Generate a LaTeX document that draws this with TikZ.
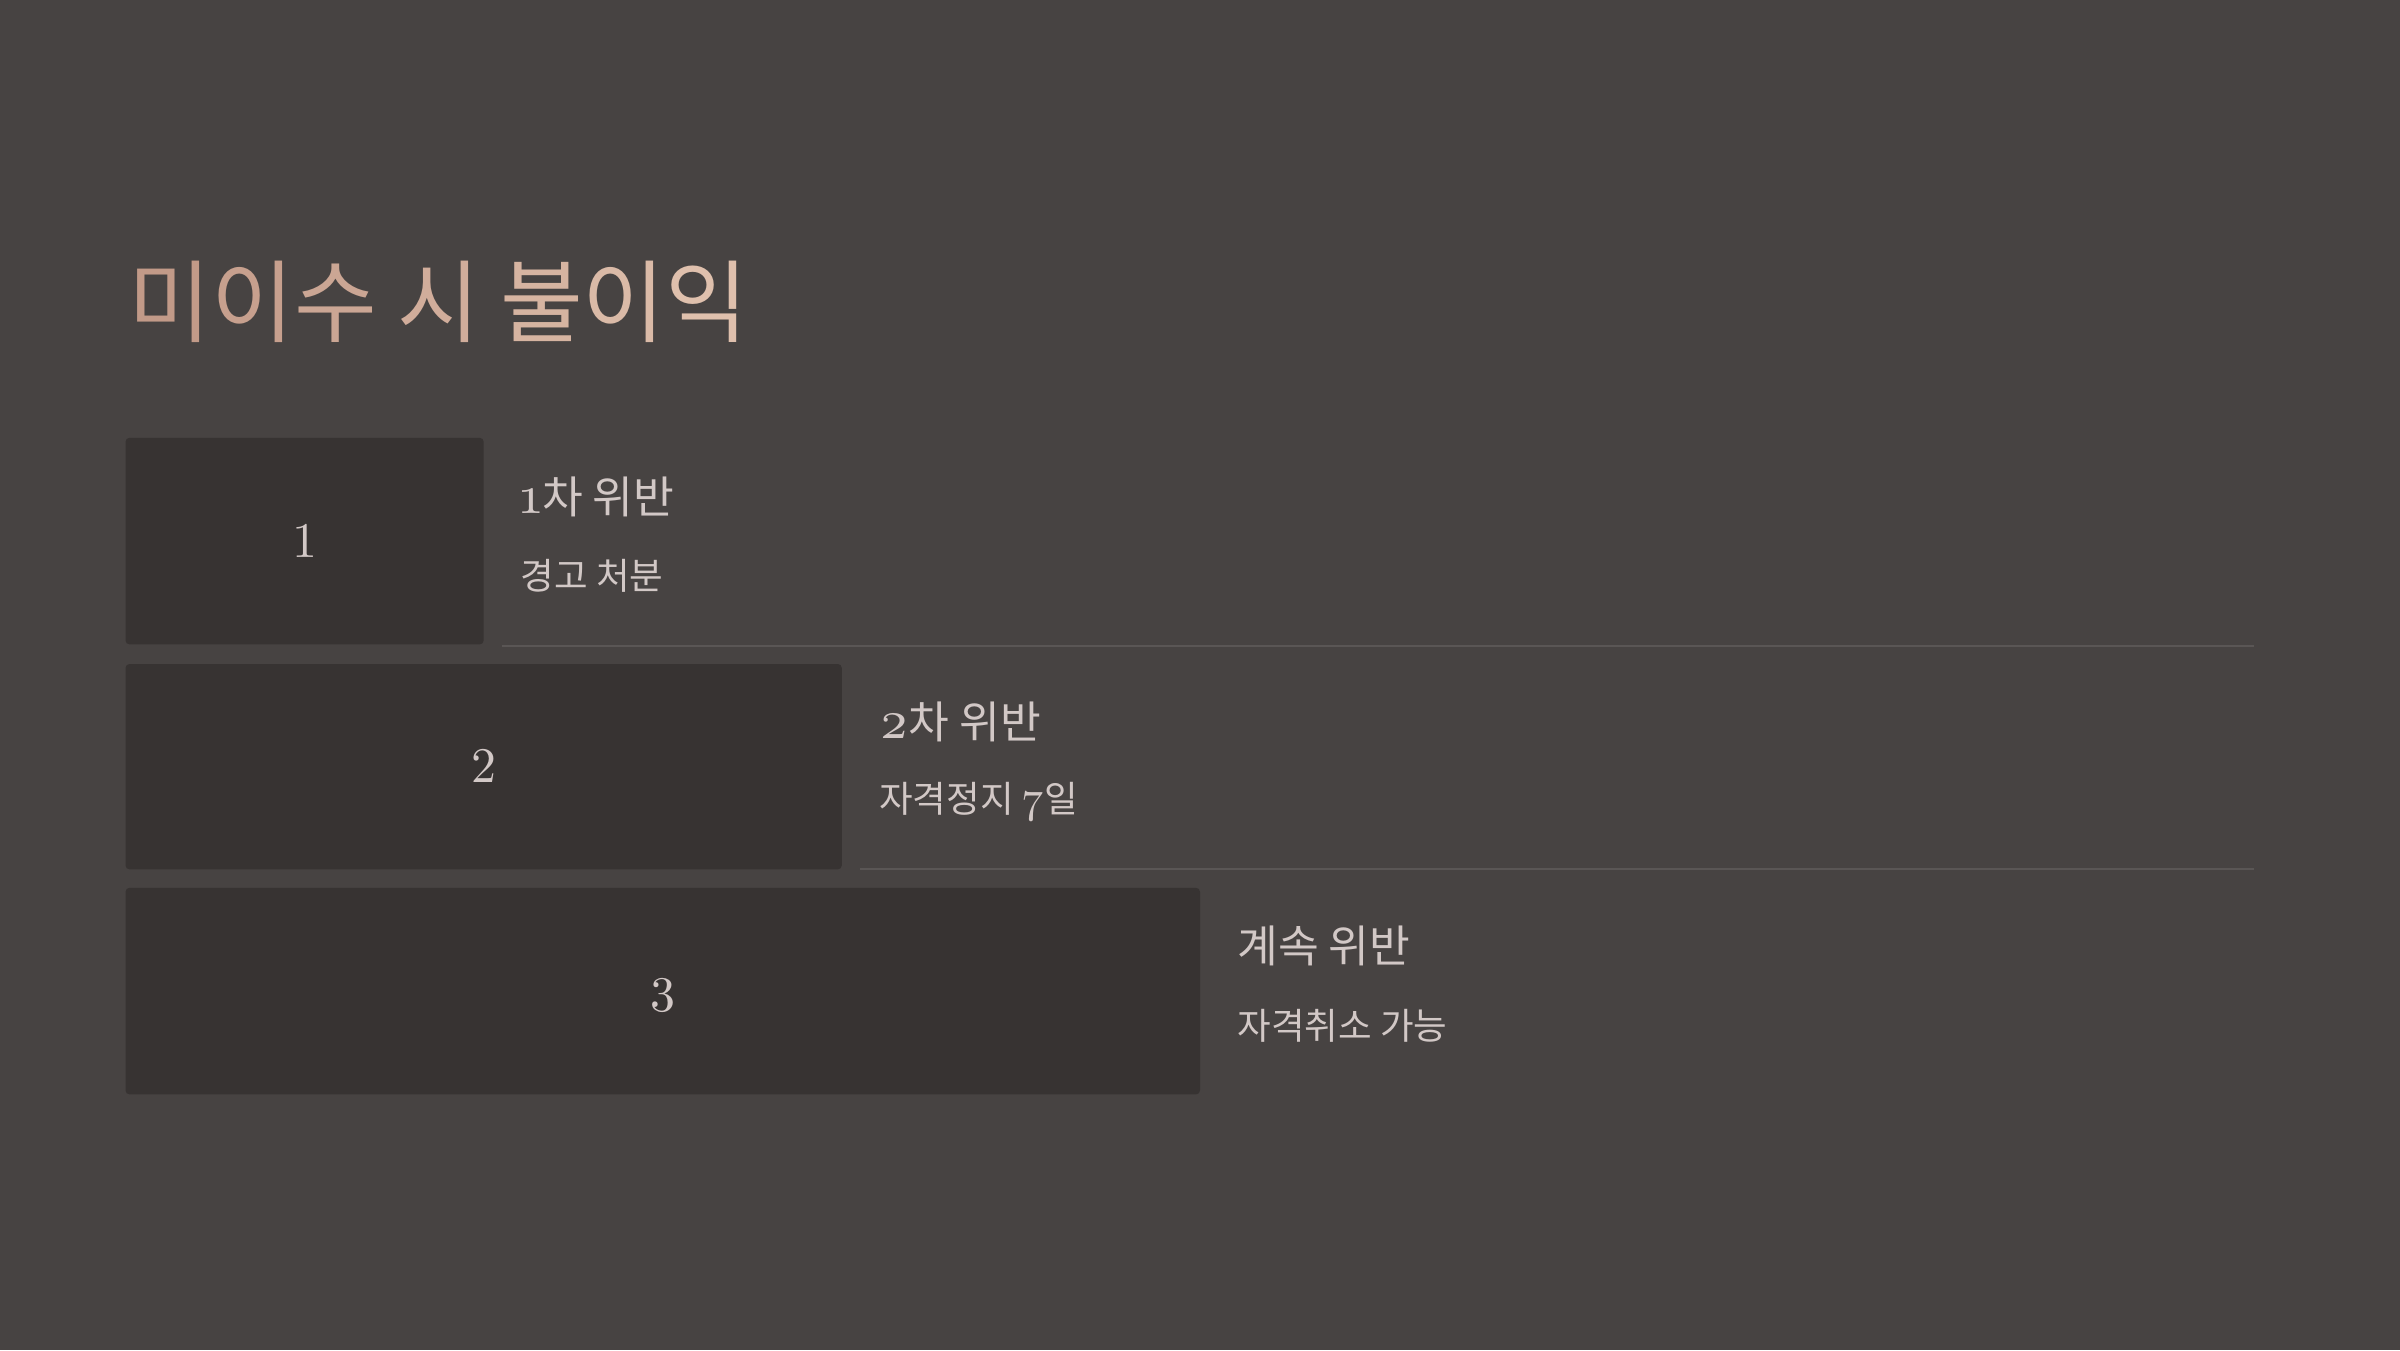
\documentclass[tikz,border=0pt]{standalone}
\usepackage{fontspec}
\setmainfont{Noto Sans CJK KR}
\newfontfamily\krf{Noto Sans CJK KR}
\newfontfamily\serifnum[Scale=1.05]{lmroman10-regular.otf}
\newfontfamily\oldnum[Numbers=OldStyle,Scale=1.2]{lmroman10-regular.otf}
\definecolor{bg}{HTML}{474342}
\definecolor{boxc}{HTML}{373332}
\definecolor{txt}{HTML}{D2C8C6}
\definecolor{rule}{HTML}{5A5655}
\definecolor{tA}{HTML}{C29A88}
\definecolor{tB}{HTML}{DFC0AD}
\tikzset{
  stepbox/.style={fill=boxc, draw=none, rounded corners=0.04cm},
  num/.style={text=txt, font=\serifnum\fontsize{13.5}{16}\selectfont, inner sep=0pt},
  head/.style={anchor=west, text=txt, font=\krf\fontsize{12.6}{15}\selectfont, inner sep=0pt},
  sub/.style={anchor=west, text=txt, font=\krf\fontsize{10.4}{13}\selectfont, inner sep=0pt},
  sep/.style={draw=rule, line width=0.6pt},
}
\begin{document}
\begin{tikzpicture}
\fill[bg] (0,0) rectangle (24,13.5);
\useasboundingbox (0,0) rectangle (24,13.5);
% title
\node[anchor=west, inner sep=0pt, font=\krf\fontsize{25.6}{30}\selectfont] (title) at (1.28,10.48)
 {\textcolor{tA}{미}\textcolor{tA!84!tB}{이}\textcolor{tA!68!tB}{수} \textcolor{tA!50!tB}{시} \textcolor{tA!32!tB}{불}\textcolor{tA!16!tB}{이}\textcolor{tB}{익}};
% boxes
\path[stepbox] (1.255,13.5-4.378) rectangle (4.837,13.5-6.444);
\path[stepbox] (1.255,13.5-6.64) rectangle (8.418,13.5-8.694);
\path[stepbox] (1.255,13.5-8.878) rectangle (12.00,13.5-10.944);
\node[num] (n1) at (3.046,13.5-5.41) {1};
\node[num] (n2) at (4.836,13.5-7.66) {2};
\node[num] (n3) at (6.628,13.5-9.95) {3};
% texts
\node[head] (h1) at (5.20,13.5-4.97) {{\oldnum 1}차 위반};
\node[sub] (s1) at (5.20,13.5-5.755) {경고 처분};
\node[head] (h2) at (8.786,13.5-7.22) {{\oldnum 2}차 위반};
\node[sub] (s2) at (8.786,13.5-8.02) {자격정지 {\oldnum 7}일};
\node[head] (h3) at (12.367,13.5-9.46) {계속 위반};
\node[sub] (s3) at (12.367,13.5-10.255) {자격취소 가능};
% separators
\coordinate (l1a) at (5.02,13.5-6.46);
\coordinate (l1b) at (22.54,13.5-6.46);
\coordinate (l2a) at (8.60,13.5-8.69);
\coordinate (l2b) at (22.54,13.5-8.69);
\draw[sep] (l1a) -- (l1b);
\draw[sep] (l2a) -- (l2b);
\end{tikzpicture}
\end{document}
